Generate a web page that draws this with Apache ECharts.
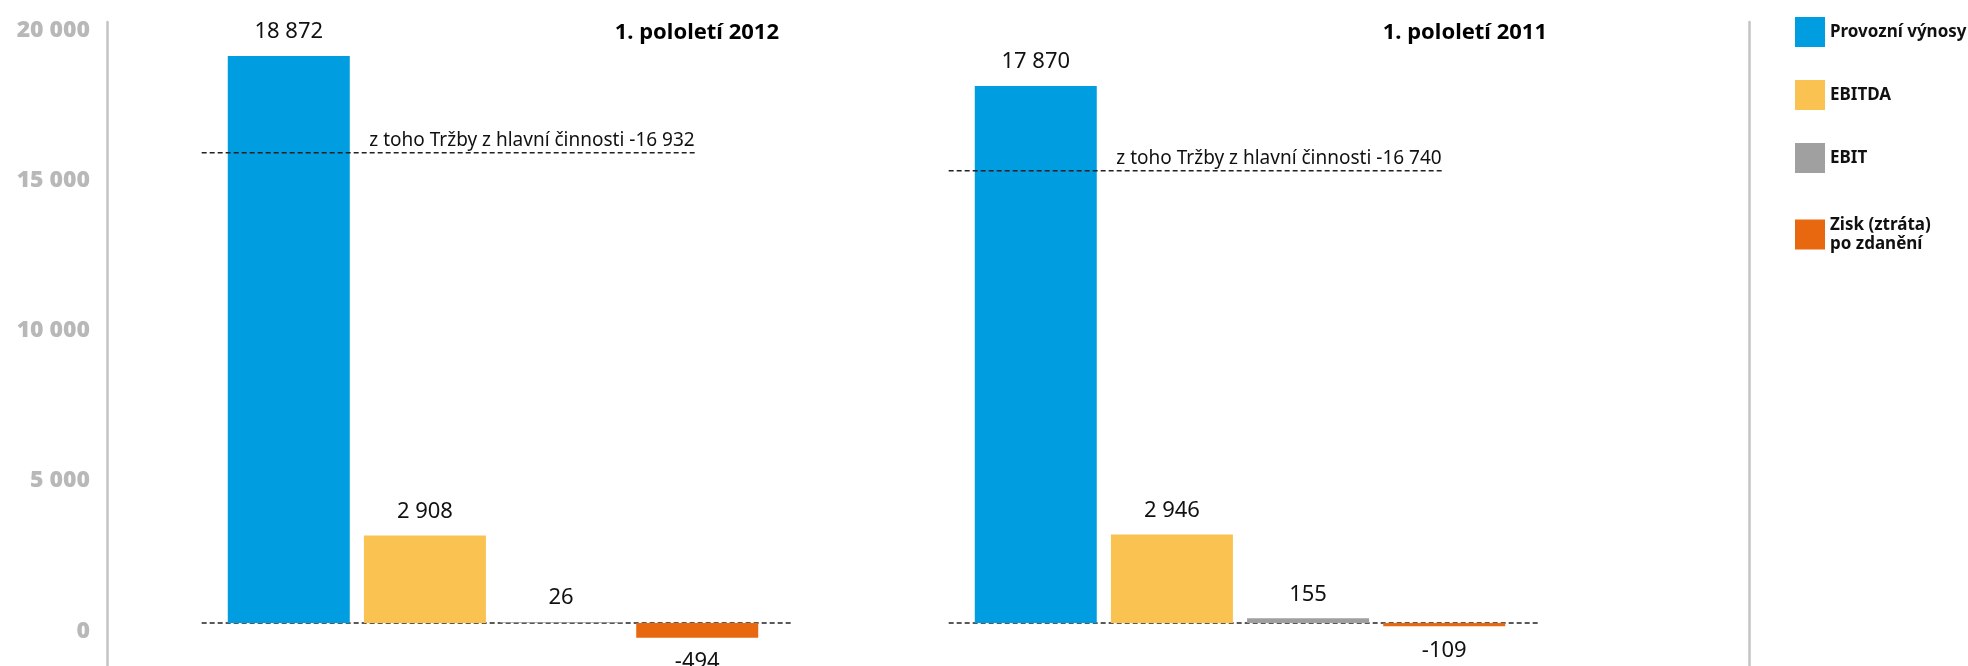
<!DOCTYPE html>
<html>
<head>
<meta charset="utf-8">
<script src="https://cdn.jsdelivr.net/npm/echarts@6/dist/echarts.min.js"></script>
<style>
html,body{margin:0;padding:0;background:#fff;}
#chart{width:1968px;height:666px;}
</style>
</head>
<body>
<div id="chart"></div>
<script>
// ---- data ----
const periods = ['1. pololetí 2012', '1. pololetí 2011'];
const seriesNames = ['Provozní výnosy', 'EBITDA', 'EBIT', 'Zisk (ztráta)\npo zdanění'];
const provozniVynosy = [18872, 17870];
const ebitda = [2908, 2946];
const ebit = [26, 155];
const ziskPoZdaneni = [-494, -109];
const trzbyLineLevel = [15650, 15050];   // level of dashed line as drawn
const trzbyLabels = ['z toho Tržby z hlavní činnosti -16 932', 'z toho Tržby z hlavní činnosti -16 740'];
const yTickValues = [0, 5000, 10000, 15000, 20000];
const yAxisMin = -1431, yAxisMax = 20000;

// ---- styling ----
const colors = ['#009EE0', '#FAC250', '#A0A0A0', '#E8680F'];
const font = "'Noto Sans', sans-serif";
const fmt = v => (v < 0 ? '-' : '') + String(Math.abs(v)).replace(/\B(?=(\d{3})+(?!\d))/g, ' ');

const seriesValues = [provozniVynosy, ebitda, ebit, ziskPoZdaneni];

const barSeries = seriesNames.map((name, i) => ({
  name: name,
  type: 'bar',
  xAxisIndex: 0,
  yAxisIndex: 0,
  barWidth: 122,
  barGap: '11.6%',
  z: 3,
  itemStyle: { color: colors[i] },
  data: seriesValues[i].map(v => ({
    value: v,
    label: { position: v < 0 ? 'bottom' : 'top' }
  })),
  label: {
    show: true,
    distance: 13,
    formatter: p => fmt(p.value),
    fontFamily: font,
    fontSize: 22,
    color: '#111'
  }
}));

// dashed reference lines drawn on a hidden value x axis (category i spans i..i+1)
const zeroStart = -0.39, zeroEnd = 0.40, trzStart = -0.39, trzEnd = 0.27;
const lineStyleDashed = { color: '#222', width: 1.5, type: [5, 3] };
const lineSeries = [];
periods.forEach((p, i) => {
  const c = i + 0.5;
  lineSeries.push({
    type: 'line', xAxisIndex: 1, yAxisIndex: 0, symbol: 'none', silent: true, z: 1,
    lineStyle: lineStyleDashed,
    data: [[c + zeroStart, 0], [c + zeroEnd, 0]]
  });
  lineSeries.push({
    type: 'line', xAxisIndex: 1, yAxisIndex: 0, symbol: 'none', silent: true, z: 4,
    lineStyle: lineStyleDashed,
    data: [[c + trzStart, trzbyLineLevel[i]], [c + trzEnd, trzbyLineLevel[i]]],
    endLabel: {
      show: true,
      formatter: () => trzbyLabels[i],
      align: 'right',
      verticalAlign: 'bottom',
      distance: 0,
      offset: [0, -3],
      fontFamily: font, fontSize: 19, color: '#111'
    }
  });
});

const chart = echarts.init(document.getElementById('chart'), null, { renderer: 'canvas' });
chart.setOption({
  backgroundColor: '#fff',
  animation: false,
  grid: { left: 119.5, width: 1494, top: 22, bottom: 0, containLabel: false },
  legend: {
    data: seriesNames.map((n, i) => (i === seriesNames.length - 1
      ? { name: n, textStyle: { padding: [19, 0, 0, 0] } }
      : { name: n })),
    orient: 'vertical',
    left: 1795,
    top: 17,
    padding: 0,
    itemWidth: 30,
    itemHeight: 30,
    itemGap: 33,
    icon: 'rect',
    selectedMode: false,
    textStyle: { fontFamily: font, fontSize: 17, fontWeight: 'bold', color: '#111', lineHeight: 19 }
  },
  xAxis: [
    {
      type: 'category',
      data: periods,
      position: 'top',
      axisLine: { show: false },
      axisTick: { show: false },
      splitLine: { show: false },
      axisLabel: {
        inside: true,
        margin: 0,
        formatter: (v, idx) => (idx === 0 ? '{a|' + v + '}' : '{b|' + v + '}'),
        rich: {
          a: { width: 572, align: 'right', fontFamily: font, fontSize: 22, fontWeight: 'bold', color: '#000' },
          b: { width: 614, align: 'right', fontFamily: font, fontSize: 22, fontWeight: 'bold', color: '#000' }
        }
      }
    },
    { type: 'value', min: 0, max: periods.length, show: false }
  ],
  yAxis: [
    {
      type: 'value',
      min: yAxisMin, max: yAxisMax,
      offset: 12.5,
      axisLine: { show: true, onZero: false, lineStyle: { color: '#c4c4c4', width: 2.5 } },
      axisTick: { show: false },
      splitLine: { show: false },
      axisLabel: {
        customValues: yTickValues,
        margin: 17,
        formatter: v => '{v|' + fmt(v) + '}',
        rich: {
          v: { padding: [16, 0, 0, 0], fontFamily: font, fontSize: 23, fontWeight: 900, color: '#b8b8b8' }
        }
      }
    },
    {
      type: 'value',
      position: 'right',
      min: yAxisMin, max: yAxisMax,
      offset: 135.5,
      axisLine: { show: true, onZero: false, lineStyle: { color: '#c4c4c4', width: 2.5 } },
      axisTick: { show: false },
      axisLabel: { show: false },
      splitLine: { show: false }
    }
  ],
  series: barSeries.concat(lineSeries)
});
</script>
</body>
</html>
